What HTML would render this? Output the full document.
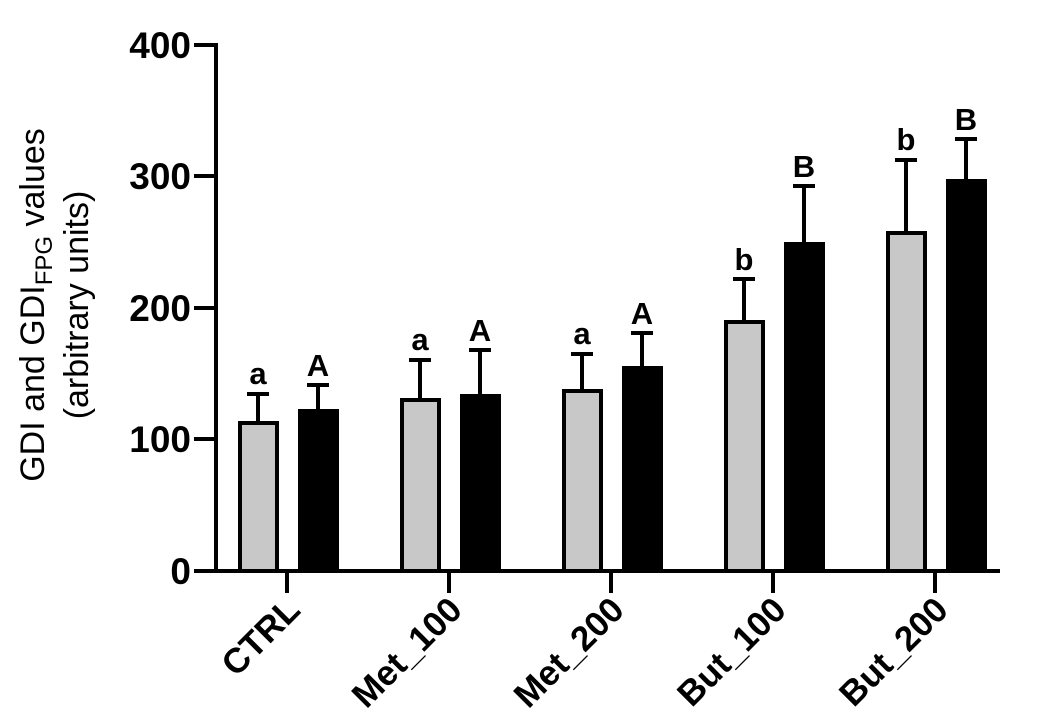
<!DOCTYPE html>
<html><head><meta charset="utf-8"><style>body{margin:0;background:#fff}svg{display:block}</style></head>
<body>
<svg width="1042" height="728" viewBox="0 0 1042 728" xmlns="http://www.w3.org/2000/svg" font-family="Liberation Sans, Arial, sans-serif">
<rect width="1042" height="728" fill="#fff"/>
<g stroke="#000" stroke-width="4" fill="none">
<line x1="216" y1="43" x2="216" y2="573"/>
<line x1="194" y1="571" x2="1000" y2="571"/>
<line x1="194" y1="45" x2="216" y2="45"/>
<line x1="194" y1="176" x2="216" y2="176"/>
<line x1="194" y1="308" x2="216" y2="308"/>
<line x1="194" y1="439" x2="216" y2="439"/>
<line x1="287" y1="571" x2="287" y2="593"/>
<line x1="449" y1="571" x2="449" y2="593"/>
<line x1="611" y1="571" x2="611" y2="593"/>
<line x1="773" y1="571" x2="773" y2="593"/>
<line x1="935" y1="571" x2="935" y2="593"/>
</g>
<g font-size="37" font-weight="bold" text-anchor="end">
<text x="191" y="58">400</text>
<text x="191" y="189">300</text>
<text x="191" y="321">200</text>
<text x="191" y="452">100</text>
<text x="191" y="584">0</text>
</g>
<g font-size="34" text-anchor="middle">
<text transform="translate(44,305) rotate(-90)">GDI and GDI<tspan font-size="24" dy="8">FPG</tspan><tspan dy="-8"> values</tspan></text>
<text transform="translate(88,305) rotate(-90)">(arbitrary units)</text>
</g>
<g stroke="#000" stroke-width="4">
<g fill="#c8c8c8">
<rect x="240" y="423" width="37" height="148"/>
<rect x="402" y="400" width="37" height="171"/>
<rect x="564" y="391" width="37" height="180"/>
<rect x="726" y="322" width="37" height="249"/>
<rect x="888" y="233" width="37" height="338"/>
</g>
<g fill="#000">
<rect x="300" y="411" width="37" height="160"/>
<rect x="462" y="396" width="37" height="175"/>
<rect x="624" y="368" width="37" height="203"/>
<rect x="786" y="244" width="37" height="327"/>
<rect x="948" y="181" width="37" height="390"/>
</g>
<path fill="none" d="
M258 423V394M247 394H269
M318 411V385M307 385H329
M420 400V360M409 360H431
M480 396V350M469 350H491
M582 391V354M571 354H593
M642 368V333M631 333H653
M744 322V279M733 279H755
M804 244V186M793 186H815
M906 233V160M895 160H917
M966 181V139M955 139H977"/>
</g>
<g font-size="31" font-weight="bold" text-anchor="middle">
<text x="258" y="384">a</text>
<text x="318" y="376">A</text>
<text x="420" y="350">a</text>
<text x="480" y="341">A</text>
<text x="582" y="344">a</text>
<text x="642" y="324">A</text>
<text x="744" y="270">b</text>
<text x="804" y="177">B</text>
<text x="906" y="150">b</text>
<text x="966" y="130">B</text>
</g>
<g font-size="35" font-weight="bold" text-anchor="end">
<text transform="translate(302,612) rotate(-45)">CTRL</text>
<text transform="translate(464,612) rotate(-45)">Met_100</text>
<text transform="translate(626,612) rotate(-45)">Met_200</text>
<text transform="translate(788,612) rotate(-45)">But_100</text>
<text transform="translate(950,612) rotate(-45)">But_200</text>
</g>
</svg>
</body></html>
